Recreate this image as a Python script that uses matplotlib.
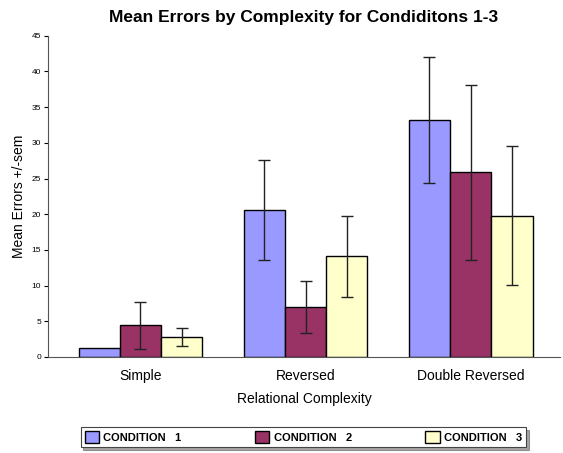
import matplotlib.pyplot as plt
import numpy as np

plt.rcParams['font.family'] = ['Liberation Sans', 'DejaVu Sans']

# data
categories = ['Simple', 'Reversed', 'Double Reversed']
conditions = ['CONDITION   1', 'CONDITION   2', 'CONDITION   3']
cond1_mean = [1.2, 20.6, 33.2]
cond2_mean = [4.45, 7.05, 25.9]
cond3_mean = [2.85, 14.1, 19.8]
cond1_sem = [0.0, 7.0, 8.8]
cond2_sem = [3.3, 3.65, 12.25]
cond3_sem = [1.25, 5.7, 9.75]

colors = ['#9999ff', '#993366', '#ffffcc']

fig = plt.figure(figsize=(5.63, 4.53), dpi=100)
ax = fig.add_axes([0.0853, 0.212, 0.909, 0.709])

x = np.arange(len(categories))
width = 0.25
means = [cond1_mean, cond2_mean, cond3_mean]
sems = [cond1_sem, cond2_sem, cond3_sem]
handles = []
for k in range(3):
    pos = x + (k - 1) * width
    bars = ax.bar(pos, means[k], width, color=colors[k], edgecolor='black',
                  linewidth=1.0, label=conditions[k], zorder=2)
    err = np.array(sems[k])
    mask = err > 0
    ax.errorbar(pos[mask], np.array(means[k])[mask], yerr=err[mask], fmt='none',
                ecolor='#222222', elinewidth=1.0, capsize=4, capthick=1.0, zorder=3)
    handles.append(bars)

ax.set_xlim(-0.56, 2.54)
ax.set_ylim(0, 45)
ax.set_yticks(np.arange(0, 46, 5))
ax.tick_params(axis='y', labelsize=6, length=3, width=0.8, pad=2)
ax.set_xticks(x)
ax.set_xticklabels(categories, fontsize=10)
ax.tick_params(axis='x', length=0, pad=9)
for s in ['top', 'right']:
    ax.spines[s].set_visible(False)
for s in ['left', 'bottom']:
    ax.spines[s].set_color('#555555')

ax.set_xlabel('Relational Complexity', fontsize=10, labelpad=6)
ax.set_ylabel('Mean Errors +/-sem', fontsize=10, labelpad=4)
ax.set_title('Mean Errors by Complexity for Condiditons 1-3', fontsize=12.5,
             fontweight='bold', pad=10)

leg = fig.legend(handles=handles, labels=conditions, loc='center',
                 bbox_to_anchor=(0.539, 0.035), ncol=3, frameon=True,
                 fancybox=False, shadow=True, prop={'size': 8, 'weight': 'bold'},
                 handlelength=1.3, handleheight=1.3, columnspacing=6.6,
                 handletextpad=0.4, borderpad=0.35, borderaxespad=0.2)
leg.get_frame().set_edgecolor('#444444')
leg.get_frame().set_linewidth(0.8)

fig.savefig('out.png', dpi=100)
